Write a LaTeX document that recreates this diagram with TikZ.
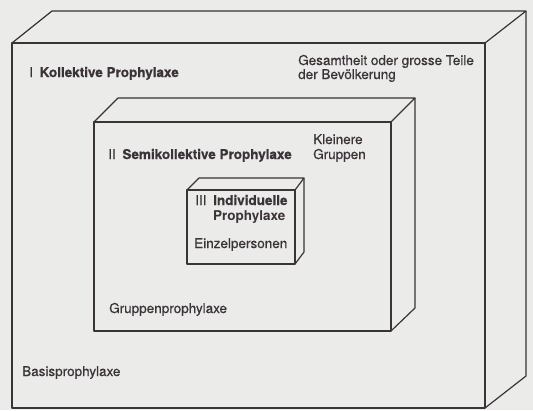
\documentclass[tikz,border=0pt]{standalone}
\usepackage{fontspec}
\setmainfont{TeX Gyre Heros}
\newfontfamily\medfont{TeX Gyre Heros}[FakeBold=0.6]
\definecolor{bg}{HTML}{EBEBE9}
\definecolor{ink}{HTML}{3A3338}
\begin{document}
\begin{tikzpicture}[x=1pt,y=-1pt,
  edge/.style={draw=ink,line width=1.2pt,line join=round},
  lbl/.style={anchor=base west,inner sep=0pt,text=ink,font=\fontsize{13.5}{15}\selectfont\medfont},
  blbl/.style={lbl,font=\fontsize{13.5}{15}\selectfont\bfseries}]
\fill[bg] (0,0) rectangle (533,410);
\useasboundingbox (0,0) rectangle (533,410);
% outer box
\draw[edge] (12,43) rectangle (485,408);
\draw[edge] (12,43) -- (52,11) -- (526,11) -- (485,43);
\draw[edge] (526,11) -- (526,376) -- (485,408);
% middle box
\draw[edge] (94,122) rectangle (391,331);
\draw[edge] (94,122) -- (118,98) -- (415,98) -- (391,122);
\draw[edge] (415,98) -- (415,308) -- (391,331);
% inner box
\draw[edge] (187,190) rectangle (295,264);
\draw[edge] (187,190) -- (199,178) -- (304,178) -- (295,190);
\draw[edge] (304,178) -- (304,252) -- (295,264);
% labels
\node[lbl] (k) at (29,77) {I\enspace{\bfseries Kollektive Prophylaxe}};
\node[lbl] (g1) at (298,65) {Gesamtheit oder grosse Teile};
\node[lbl] (g2) at (298,79) {der Bevölkerung};
\node[lbl] (s) at (108,159) {II\enspace{\bfseries Semikollektive Prophylaxe}};
\node[lbl] (kl1) at (313,144) {Kleinere};
\node[lbl] (kl2) at (313,159) {Gruppen};
\node[lbl] (i1) at (195,205) {III\enspace{\bfseries Individuelle}};
\node[blbl] (i2) at (213,220) {Prophylaxe};
\node[lbl] (e) at (194,248) {Einzelpersonen};
\node[lbl] (gp) at (109,313) {Gruppenprophylaxe};
\node[lbl] (b) at (22,376) {Basisprophylaxe};
\end{tikzpicture}
\end{document}
